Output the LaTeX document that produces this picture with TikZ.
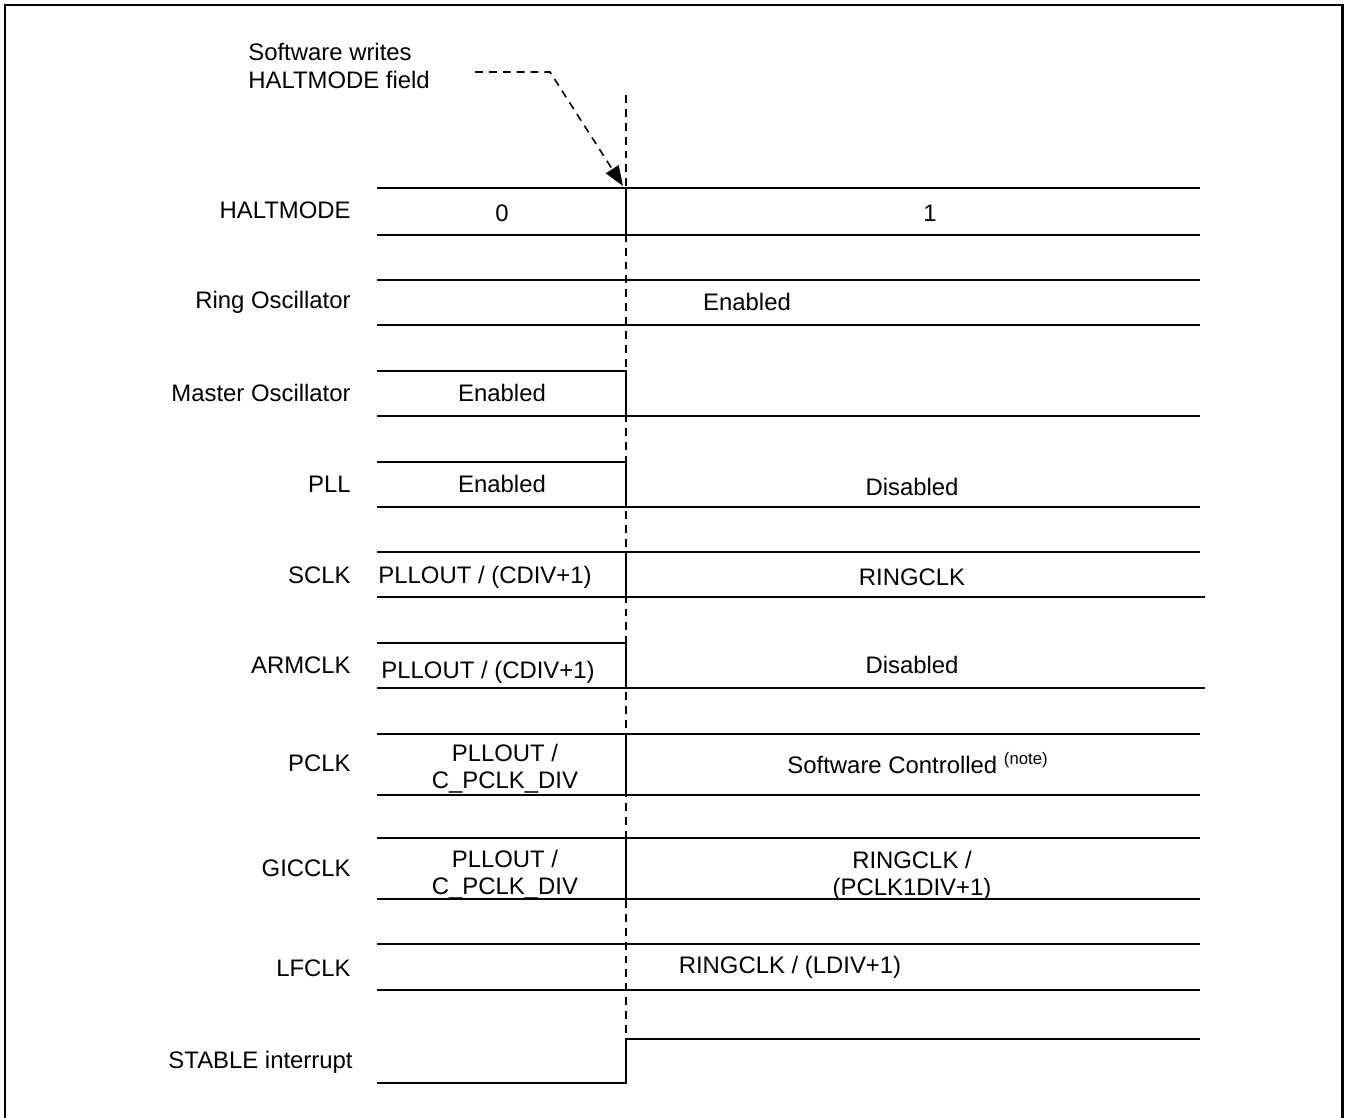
\documentclass[tikz,border=0pt]{standalone}
\usepackage{fontspec}
\setmainfont{Liberation Sans}
\usepackage{tikz}
\usetikzlibrary{arrows.meta}

\begin{document}
\begin{tikzpicture}[x=0.02cm,y=-0.02cm,
    font=\fontsize{13.6}{15.5}\selectfont,
    sig/.style={line width=1.1pt},
    edgeline/.style={dashed,line width=0.9pt,dash pattern=on 4.5pt off 3.4pt},
    siglabel/.style={anchor=east,inner sep=0pt},
    sigval/.style={align=center,inner sep=0pt}]
  \useasboundingbox (0,0) rectangle (1350,1118);
  \draw[line width=1.7pt] (5,1130) -- (5,5) -- (1342,5) -- (1342,1130);

  % time of the HALTMODE write
  \draw[edgeline] (626,95) -- (626,1040);
  \node[align=left,anchor=west,inner sep=0pt] (note) at (248,66) {Software writes\\HALTMODE field};
  \coordinate (arrStart) at (475,72);
  \coordinate (arrBend) at (550,72);
  \coordinate (edge) at (623,186);
  \draw[edgeline,-{Triangle[length=0.4cm,width=0.3cm]}] (arrStart) -- (arrBend) -- (edge);

  % signal names
  \node[siglabel] (lHalt) at (351,210) {HALTMODE};
  \node[siglabel] (lRing) at (351,302) {Ring Oscillator};
  \node[siglabel] (lMaster) at (351,393) {Master Oscillator};
  \node[siglabel] (lPll) at (351,484) {PLL};
  \node[siglabel] (lSclk) at (351,575) {SCLK};
  \node[siglabel] (lArm) at (351,665) {ARMCLK};
  \node[siglabel] (lPclk) at (351,763) {PCLK};
  \node[siglabel] (lGic) at (351,868) {GICCLK};
  \node[siglabel] (lLf) at (351,968) {LFCLK};
  \node[siglabel] (lStable) at (353,1062) {STABLE interrupt};

  % HALTMODE
  \draw[sig] (377,188) -- (1200,188) (377,235) -- (1200,235) (626,188) -- (626,235);
  \node[sigval] (vHalt0) at (502,213) {0};
  \node[sigval] (vHalt1) at (930,213) {1};
  % Ring Oscillator
  \draw[sig] (377,280) -- (1200,280) (377,325) -- (1200,325);
  \node[sigval] (vRing) at (747,302) {Enabled};
  % Master Oscillator
  \draw[sig] (377,371) -- (626,371) -- (626,416) (377,416) -- (1200,416);
  \node[sigval] (vMaster) at (502,393) {Enabled};
  % PLL
  \draw[sig] (377,462) -- (626,462) -- (626,507) (377,507) -- (1200,507);
  \node[sigval] (vPllOn) at (502,484) {Enabled};
  \node[sigval] (vPllOff) at (912,487) {Disabled};
  % SCLK
  \draw[sig] (377,552) -- (1200,552) (377,597) -- (1205,597) (626,552) -- (626,597);
  \node[sigval] (vSclkA) at (485,577) {PLLOUT / (CDIV+1)};
  \node[sigval] (vSclkB) at (912,577) {RINGCLK};
  % ARMCLK
  \draw[sig] (377,643) -- (626,643) -- (626,688) (377,688) -- (1205,688);
  \node[sigval] (vArmA) at (488,672) {PLLOUT / (CDIV+1)};
  \node[sigval] (vArmB) at (912,665) {Disabled};
  % PCLK
  \draw[sig] (377,734) -- (1200,734) (377,795) -- (1200,795) (626,734) -- (626,795);
  \node[sigval] (vPclkA) at (505,769) {PLLOUT /\\C\_PCLK\_DIV};
  \node[sigval] (vPclkB) at (918,763) {Software Controlled \textsuperscript{(note)}};
  % GICCLK
  \draw[sig] (377,838) -- (1200,838) (377,899) -- (1200,899) (626,838) -- (626,899);
  \node[sigval] (vGicA) at (505,875) {PLLOUT /\\C\_PCLK\_DIV};
  \node[sigval] (vGicB) at (912,876) {RINGCLK /\\(PCLK1DIV+1)};
  % LFCLK
  \draw[sig] (377,944) -- (1200,944) (377,990) -- (1200,990);
  \node[sigval] (vLf) at (790,967) {RINGCLK / (LDIV+1)};
  % STABLE interrupt
  \draw[sig] (377,1083) -- (626,1083) -- (626,1039) -- (1200,1039);
\end{tikzpicture}
\end{document}
